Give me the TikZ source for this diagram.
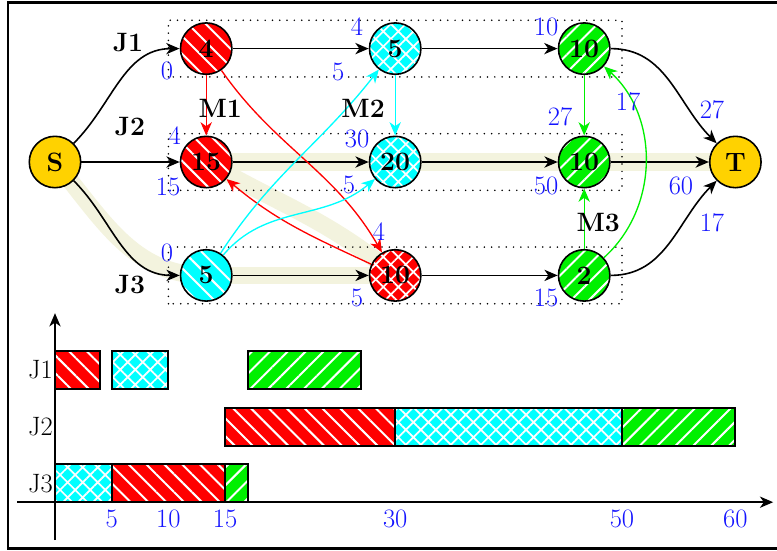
\documentclass[tikz,border=0pt]{standalone}
\usepackage{amsmath}
\usepackage{xcolor}
\usetikzlibrary{arrows.meta,patterns.meta,backgrounds}

\definecolor{gold}{RGB}{255,210,0}
\definecolor{critcol}{RGB}{243,243,222}
\definecolor{numblue}{RGB}{20,20,255}
\definecolor{mcyan}{RGB}{0,255,255}
\definecolor{mgreen}{RGB}{0,240,0}
\definecolor{mred}{RGB}{255,0,0}
\newcommand{\txt}{\fontsize{20}{24}\selectfont}

\tikzset{
  op/.style={circle,draw,line width=1.2pt,minimum size=1.36cm,inner sep=0pt,font=\txt\bfseries},
  fa/.style={preaction={fill=#1},pattern={Lines[angle=-45,distance=9.5pt,line width=1.5pt]},pattern color=white},
  fb/.style={preaction={fill=#1},pattern={Hatch[angle=45,distance=8pt,line width=1.3pt]},pattern color=white},
  fc/.style={preaction={fill=#1},pattern={Lines[angle=45,distance=9.5pt,line width=1.5pt]},pattern color=white},
  num/.style={text=numblue,font=\txt,inner sep=0pt},
  lab/.style={font=\txt\bfseries,inner sep=0pt},
  arc/.style={-{Stealth[length=10pt,width=8.5pt,inset=3pt]},line width=1.2pt},
  marc/.style={arc,line width=1pt},
  crit/.style={line width=13pt,critcol},
  rowbox/.style={line width=1.3pt,dash pattern=on 0pt off 5.5pt,line cap=round},
  bar/.style={draw,line width=1.5pt},
}

\begin{document}
\begin{tikzpicture}
\useasboundingbox (-1.455,-10.265) rectangle (19.101,4.286);
\draw[line width=2.2pt] (-1.243,-10.22) rectangle (19.6,4.214);
% lignes des jobs
\draw[rowbox] (3,2.25) rectangle (15,3.75);
\draw[rowbox] (3,-0.75) rectangle (15,0.75);
\draw[rowbox] (3,-3.75) rectangle (15,-2.25);
% description et nommage des noeuds
\node (S) at (0,0) [op,fill=gold] {S};
\node (T) at (18,0) [op,fill=gold] {T};
\node (O11) at (4,3) [op,fa=mred] {4};
\node (O12) at (9,3) [op,fb=mcyan] {5};
\node (O13) at (14,3) [op,fc=mgreen] {10};
\node (O21) at (4,0) [op,fa=mred] {15};
\node (O22) at (9,0) [op,fb=mcyan] {20};
\node (O23) at (14,0) [op,fc=mgreen] {10};
\node (O31) at (4,-3) [op,fa=mcyan] {5};
\node (O32) at (9,-3) [op,fb=mred] {10};
\node (O33) at (14,-3) [op,fc=mgreen] {2};
% chemin critique
\begin{scope}[on background layer]
\draw[crit] (S.center) to[out=-50,in=180] (O31.center);
\draw[crit] (O31.center) -- (O32.center);
\draw[crit] (O32.center) to[out=140,in=-30] (O21.center);
\draw[crit] (O21.center) -- (T.center);
\end{scope}
% arcs des jobs
\draw[arc] (S) to[out=45,in=180] (O11);
\draw[arc] (S) -- (O21);
\draw[arc] (S) to[out=-45,in=180] (O31);
\draw[arc] (O11) -- (O12);
\draw[arc] (O12) -- (O13);
\draw[arc] (O13) to[out=0,in=135] (T);
\draw[arc] (O21) -- (O22);
\draw[arc] (O22) -- (O23);
\draw[arc] (O23) -- (T);
\draw[arc] (O31) -- (O32);
\draw[arc] (O32) -- (O33);
\draw[arc] (O33) to[out=0,in=-135] (T);
% arcs des machines
\draw[marc,mred] (O11) -- (O21);
\draw[marc,mred] (O11) to[out=-55,in=120] (O32);
\draw[marc,mred] (O32) to[out=155,in=-40] (O21);
\draw[marc,mcyan] (O12) -- (O22);
\draw[marc,mcyan] (O31) to[out=57,in=-128] (O12);
\draw[marc,mcyan] (O31) to[out=50,in=-140] (O22);
\draw[marc,mgreen] (O13) -- (O23);
\draw[marc,mgreen] (O33) -- (O23);
\draw[marc,mgreen] (O33) to[out=42,in=-42] (O13);
% etiquettes
\node (lJ1) at (1.93,3.15) [lab] {J1};
\node (lJ2) at (1.98,0.95) [lab] {J2};
\node (lJ3) at (1.98,-3.25) [lab] {J3};
\node (lM1) at (4.37,1.43) [lab] {M1};
\node (lM2) at (8.15,1.43) [lab] {M2};
\node (lM3) at (14.37,-1.61) [lab] {M3};
% dates
\node (d1) at (2.96,2.41) [num] {0};
\node (d2) at (7.99,3.57) [num] {4};
\node (d3) at (7.49,2.38) [num] {5};
\node (d4) at (12.99,3.57) [num] {10};
\node (d5) at (3.17,0.71) [num] {4};
\node (d6) at (2.99,-0.66) [num] {15};
\node (d7) at (7.99,0.61) [num] {30};
\node (d8) at (7.78,-0.61) [num] {5};
\node (d9) at (13.36,1.19) [num] {27};
\node (d10) at (12.99,-0.63) [num] {50};
\node (d11) at (15.16,1.59) [num] {17};
\node (d12) at (17.38,1.38) [num] {27};
\node (d13) at (16.56,-0.63) [num] {60};
\node (d14) at (17.38,-1.61) [num] {17};
\node (d15) at (2.96,-2.41) [num] {0};
\node (d16) at (8.57,-1.83) [num] {4};
\node (d17) at (7.99,-3.60) [num] {5};
\node (d18) at (12.99,-3.60) [num] {15};
% diagramme de Gantt
\foreach \s/\e/\y/\p/\c in {0/4/5/fa/mred,5/10/5/fb/mcyan,17/27/5/fc/mgreen,
  15/30/6.5/fa/mred,30/50/6.5/fb/mcyan,50/60/6.5/fc/mgreen,
  0/5/8/fb/mcyan,5/15/8/fa/mred,15/17/8/fc/mgreen}
  \path[bar,\p=\c] (0.3*\s,-\y) rectangle (0.3*\e,-\y-1);
\coordinate (xa) at (-1,-9);
\coordinate (xb) at (19,-9);
\coordinate (ya) at (0,-10);
\coordinate (yb) at (0,-4);
\draw[arc] (xa) -- (xb);
\draw[arc] (ya) -- (yb);
\node (g1) at (-0.05,-5.5) [anchor=east,font=\txt,inner sep=0pt] {J1};
\node (g2) at (-0.05,-7) [anchor=east,font=\txt,inner sep=0pt] {J2};
\node (g3) at (-0.05,-8.5) [anchor=east,font=\txt,inner sep=0pt] {J3};
\foreach \t in {5,10,15,30,50,60}
  \node (tk\t) at (0.3*\t,-9.45) [num] {\t};
\end{tikzpicture}
\end{document}
